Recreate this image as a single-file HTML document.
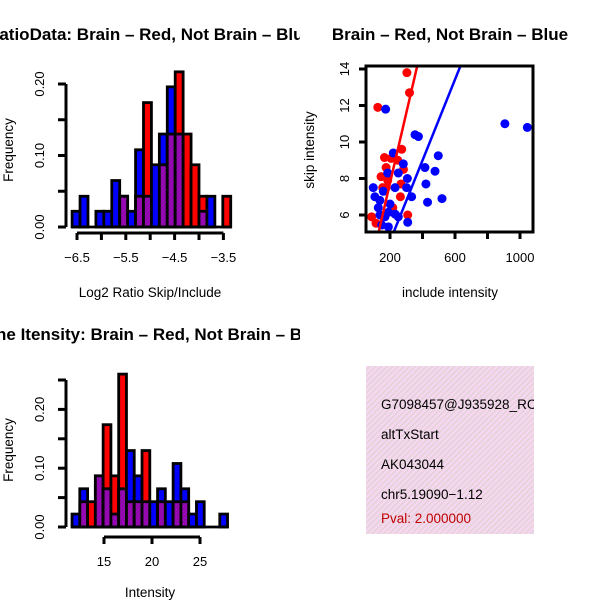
<!DOCTYPE html>
<html><head><meta charset="utf-8"><style>
html,body{margin:0;padding:0;background:#fff;}
svg{display:block;font-family:"Liberation Sans",sans-serif;}
</style></head><body>
<svg id="c" width="600" height="600" viewBox="0 0 600 600">
<defs>
<pattern id="hatch" width="4" height="4" patternUnits="userSpaceOnUse" patternTransform="rotate(45)">
<rect width="4" height="4" fill="#f6d6f0"/><rect width="1.2" height="4" fill="#ddd3d0"/>
</pattern>
<pattern id="ph" width="3" height="3" patternUnits="userSpaceOnUse" patternTransform="rotate(45)">
<rect width="3" height="3" fill="#a000c0"/><rect width="1" height="3" fill="#7a1a90"/>
</pattern>
<clipPath id="sc"><rect x="366" y="66" width="167" height="166"/></clipPath>
<clipPath id="leftHalf"><rect x="0" y="0" width="300" height="600"/></clipPath>
<clipPath id="rightHalf"><rect x="300" y="0" width="300" height="600"/></clipPath>
</defs>
<g clip-path="url(#leftHalf)">
<text x="150" y="40" text-anchor="middle" font-weight="bold" font-size="17">RatioData: Brain – Red, Not Brain – Blue</text>
<text x="150" y="297" text-anchor="middle" font-size="13.5">Log2 Ratio Skip/Include</text>
<text transform="translate(13,150) rotate(-90)" text-anchor="middle" font-size="13.5">Frequency</text>
<g id="h1"></g>
</g>
<g clip-path="url(#rightHalf)">
<text x="450" y="40" text-anchor="middle" font-weight="bold" font-size="17">Brain – Red, Not Brain – Blue</text>
<text x="450" y="297" text-anchor="middle" font-size="13.5">include intensity</text>
<text transform="translate(314,150) rotate(-90)" text-anchor="middle" font-size="13.5">skip intensity</text>
<g id="s1"></g>
</g>
<g clip-path="url(#leftHalf)">
<text x="150" y="340" text-anchor="middle" font-weight="bold" font-size="17">Gene Itensity: Brain – Red, Not Brain – Blue</text>
<text x="150" y="597" text-anchor="middle" font-size="13.5">Intensity</text>
<text transform="translate(13,450) rotate(-90)" text-anchor="middle" font-size="13.5">Frequency</text>
<g id="h2"></g>
</g>
<g>
<rect x="366" y="366" width="168" height="168" fill="url(#hatch)"/>
<svg x="366" y="366" width="168" height="168" overflow="hidden">
<text x="15" y="43" font-size="13.5">G7098457@J935928_RC</text>
<text x="15" y="73" font-size="13.5">altTxStart</text>
<text x="15" y="103" font-size="13.5">AK043044</text>
<text x="15" y="133" font-size="13.5">chr5.19090−1.12</text>
<text x="15" y="157" font-size="13.5" fill="#c00000">Pval: 2.000000</text>
</svg>
</g>
</svg>
<script>
// Ratio histogram data
const ratioBinStart = -6.6;
const ratioBinWidth = 0.1625;
const ratioBlue = [0.022,0.043,0,0.022,0.022,0.065,0.043,0.022,0.108,0.043,0.087,0.13,0.196,0.13,0,0,0.022,0.043,0,0];
const ratioRed  = [0,0,0,0,0,0,0.043,0,0.043,0.174,0,0.087,0.13,0.217,0.13,0.087,0.043,0,0,0.043];
const ratioXTicks = [-6.5,-5.5,-4.5,-3.5];
const ratioXMinor = [-6.5,-6,-5.5,-5,-4.5,-4,-3.5];
const ratioYTicks = [0,0.05,0.10,0.15,0.20];
const ratioYLabels = ["0.00","","0.10","","0.20"];
// Intensity histogram data
const intBinStart = 11.67;
const intBinWidth = 0.81;
const intBlue = [0.022,0.065,0,0.087,0.065,0.022,0.065,0.13,0.087,0.043,0.043,0.065,0.043,0.108,0.065,0.022,0.043,0,0,0.022];
const intRed  = [0,0.043,0.043,0.087,0.174,0.087,0.26,0.043,0.043,0.13,0,0.043,0,0.043,0.043,0,0,0,0,0];
const intXTicks = [15,20,25];
const intYTicks = [0,0.05,0.10,0.15,0.20,0.25];
const intYLabels = ["0.00","","0.10","","0.20",""];
// Scatter data
const redInclude = [304,320,125,272,166,207,248,176,283,145,186,268,155,264,217,309,87,114,176];
const redSkip    = [13.8,12.7,11.9,9.6,9.15,9.1,9.0,8.6,8.5,8.1,7.9,7.7,7.5,7.0,6.4,6.0,5.9,5.55,7.5];
const blueInclude = [173,907,1045,354,375,220,497,282,415,251,477,186,307,421,97,302,159,231,107,333,520,431,138,200,128,190,231,138,169,251,309,190,149];
const blueSkip    = [11.8,11.0,10.8,10.4,10.3,9.4,9.25,8.8,8.6,8.3,8.4,8.3,8.0,7.7,7.5,7.5,7.3,7.5,7.0,7.0,6.9,6.7,6.8,6.6,6.4,6.15,6.05,6.0,5.9,5.9,5.6,5.35,5.45];
const redFit = [0.09,0.0383];
const blueFit = [0.122,0.02217];
const scXTicks = [200,600,1000];
const scXMinor = [200,400,600,800,1000];
const scYTicks = [6,8,10,12,14];

const NS="http://www.w3.org/2000/svg";
function mk(tag,attrs,parent){const e=document.createElementNS(NS,tag);for(const k in attrs)e.setAttribute(k,attrs[k]);parent.appendChild(e);return e;}

function hist(g, binStart, binW, blue, red, xScale, yScale, xTicks, xMinor, yTicks, yLabels, axY, axX, name){
  const n=blue.length;
  for(let i=0;i<n;i++){
    const xa=xScale(binStart+i*binW), xb=xScale(binStart+(i+1)*binW);
    const b=blue[i], r=red[i], lo=Math.min(b,r), hi=Math.max(b,r);
    if(hi<=0) continue;
    const col = b>r ? "#0000ff" : "#ff0000";
    let e=mk("rect",{x:xa,y:yScale(hi),width:xb-xa,height:yScale(0)-yScale(hi),fill:col,stroke:"#000","stroke-width":2.8},g);
    
    
    if(lo>0){
      e=mk("rect",{x:xa,y:yScale(lo),width:xb-xa,height:yScale(0)-yScale(lo),fill:"url(#ph)",stroke:"#000","stroke-width":2.8},g);
      
      
    }
  }
  mk("line",{x1:xScale(binStart),x2:xScale(binStart+n*binW),y1:yScale(0),y2:yScale(0),stroke:"#000","stroke-width":2.8},g);
  let l=mk("line",{x1:axX,x2:axX,y1:yScale(yTicks[0]),y2:yScale(yTicks[yTicks.length-1]),stroke:"#000","stroke-width":3},g);
  
  
  yTicks.forEach((v,i)=>{
    mk("line",{x1:axX-8,x2:axX,y1:yScale(v),y2:yScale(v),stroke:"#000","stroke-width":3},g);
    if(yLabels[i]){
      const t=mk("text",{transform:`translate(${axX-22},${yScale(v)}) rotate(-90)`,"text-anchor":"middle","font-size":13},g);
      t.textContent=yLabels[i];
      
      
    }
  });
  l=mk("line",{x1:xScale(xMinor[0]),x2:xScale(xMinor[xMinor.length-1]),y1:axY,y2:axY,stroke:"#000","stroke-width":3},g);
  
  
  xMinor.forEach(v=>mk("line",{x1:xScale(v),x2:xScale(v),y1:axY,y2:axY+7,stroke:"#000","stroke-width":3},g));
  xTicks.forEach(v=>{
    const t=mk("text",{x:xScale(v),y:axY+29,"text-anchor":"middle","font-size":13},g);
    t.textContent=String(v).replace("-","−");
    
    
  });
}

const rx=v=>77+(v+6.5)*48.8, ry=v=>227-v*715;
hist(document.getElementById("h1"),ratioBinStart,ratioBinWidth,ratioBlue,ratioRed,rx,ry,ratioXTicks,ratioXMinor,ratioYTicks,ratioYLabels,233,66,"ratio");
const ix=v=>104+(v-15)*9.6, iy=v=>527-v*588;
hist(document.getElementById("h2"),intBinStart,intBinWidth,intBlue,intRed,ix,iy,intXTicks,intXTicks,intYTicks,intYLabels,537,66,"intensity");

const sg=document.getElementById("s1");
const sx=v=>390+(v-200)*32.5/200, sy=v=>69+(14-v)*18.25;
let clipG=mk("g",{"clip-path":"url(#sc)"},sg);
function fitLine(f,col,nm){
  const xa=0,xb=1200;
  const e=mk("line",{x1:sx(xa),y1:sy(f[0]+f[1]*xa),x2:sx(xb),y2:sy(f[0]+f[1]*xb),stroke:col,"stroke-width":2.5},clipG);
  
  
}
redInclude.forEach((v,i)=>{const c=mk("circle",{cx:sx(v),cy:sy(redSkip[i]),r:4.5,fill:"#ff0000"},clipG);
  
  });
blueInclude.forEach((v,i)=>{const c=mk("circle",{cx:sx(v),cy:sy(blueSkip[i]),r:4.5,fill:"#0000ff"},clipG);
  
  });
fitLine(redFit,"#ff0000","brain-fit-line");
fitLine(blueFit,"#0000ff","not-brain-fit-line");
let box=mk("rect",{x:366,y:66,width:167,height:166,fill:"none",stroke:"#000","stroke-width":3},sg);


scXMinor.forEach(v=>mk("line",{x1:sx(v),x2:sx(v),y1:232,y2:239,stroke:"#000","stroke-width":3},sg));
scXTicks.forEach(v=>{const t=mk("text",{x:sx(v),y:262,"text-anchor":"middle","font-size":13},sg);t.textContent=v;
  
  });
scYTicks.forEach(v=>{mk("line",{x1:359,x2:366,y1:sy(v),y2:sy(v),stroke:"#000","stroke-width":3},sg);
  const t=mk("text",{transform:`translate(349,${sy(v)}) rotate(-90)`,"text-anchor":"middle","font-size":13},sg);t.textContent=v;
  
  });
</script>
</body></html>
